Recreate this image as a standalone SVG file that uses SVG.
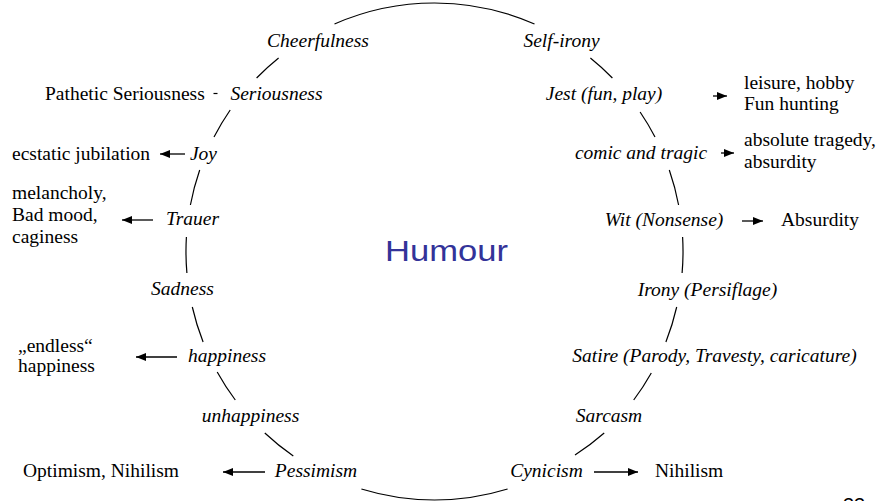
<svg xmlns="http://www.w3.org/2000/svg" width="879" height="501" viewBox="0 0 879 501">
  <style>
    .node { font-family: "Liberation Serif", "Times New Roman", serif; font-size: 19.5px; font-style: italic; fill: #000; text-anchor: middle; }
    .note { font-family: "Liberation Serif", "Times New Roman", serif; font-size: 19.5px; fill: #000; }
    .ring { fill: none; stroke: #000; stroke-width: 1.2; }
    .arrow { stroke: #000; stroke-width: 1.3; marker-end: url(#head); }
    .title { font-family: "Liberation Sans", Arial, sans-serif; font-size: 30px; fill: #333399; }
    .page { font-family: "Liberation Sans", Arial, sans-serif; font-size: 20px; fill: #000; }
  </style>
  <defs>
    <marker id="head" viewBox="0 0 10 8" refX="10" refY="4" markerWidth="10" markerHeight="8" markerUnits="userSpaceOnUse" orient="auto">
      <path d="M0,0 L10,4 L0,8 z" fill="#000"/>
    </marker>
  </defs>
  <rect width="879" height="501" fill="#fff"/>

  <!-- ring of concepts: circle centre (434.5, 251.5), r = 248.5, broken at each label -->
  <g id="connectors">
    <path class="ring" d="M334.5,24 A248.5,248.5 0 0 1 534.5,24"/>
    <path class="ring" d="M278.6,58 A248.5,248.5 0 0 0 256.6,78"/>
    <path class="ring" d="M230.2,110 A248.5,248.5 0 0 0 214,137"/>
    <path class="ring" d="M199.7,170 A248.5,248.5 0 0 0 190.4,205"/>
    <path class="ring" d="M186.4,237 A248.5,248.5 0 0 0 186.9,273"/>
    <path class="ring" d="M192.3,307 A248.5,248.5 0 0 0 203.1,342"/>
    <path class="ring" d="M217.2,372 A248.5,248.5 0 0 0 235.3,400"/>
    <path class="ring" d="M264.8,433 A248.5,248.5 0 0 0 293.3,456"/>
    <path class="ring" d="M361.4,489 A248.5,248.5 0 0 0 507.6,489"/>
    <path class="ring" d="M590.4,58 A248.5,248.5 0 0 1 612.4,78"/>
    <path class="ring" d="M640.1,112 A248.5,248.5 0 0 1 655,137"/>
    <path class="ring" d="M669.3,170 A248.5,248.5 0 0 1 678.6,205"/>
    <path class="ring" d="M682.6,237 A248.5,248.5 0 0 1 682.1,273"/>
    <path class="ring" d="M676.7,307 A248.5,248.5 0 0 1 665.9,342"/>
    <path class="ring" d="M651.3,373 A248.5,248.5 0 0 1 633.7,400"/>
    <path class="ring" d="M604.2,433 A248.5,248.5 0 0 1 575,455"/>

    <!-- outward arrows -->
    <line x1="213.5" y1="93.5" x2="217.5" y2="93.5" stroke="#000" stroke-width="1.2"/>
    <line class="arrow" x1="185" y1="154" x2="160" y2="154"/>
    <line class="arrow" x1="153" y1="220" x2="122" y2="220"/>
    <line class="arrow" x1="177" y1="357" x2="136" y2="357"/>
    <line class="arrow" x1="265" y1="472" x2="223" y2="472"/>
    <line class="arrow" x1="713" y1="96" x2="727" y2="96"/>
    <line class="arrow" x1="721" y1="153" x2="734" y2="153"/>
    <line class="arrow" x1="742" y1="221" x2="763" y2="221"/>
    <line class="arrow" x1="594" y1="472" x2="638" y2="472"/>
  </g>

  <g id="humour"><text class="title" x="385" y="261" textLength="123" lengthAdjust="spacingAndGlyphs">Humour</text></g>

  <g id="cheerfulness"><text class="node" x="318" y="47">Cheerfulness</text></g>
  <g id="self-irony"><text class="node" x="561.5" y="47">Self-irony</text></g>
  <g id="seriousness"><text class="node" x="276.5" y="100">Seriousness</text></g>
  <g id="jest"><text class="node" x="604" y="100">Jest (fun, play)</text></g>
  <g id="joy"><text class="node" x="203.5" y="160">Joy</text></g>
  <g id="comic-tragic"><text class="node" x="641" y="159">comic and tragic</text></g>
  <g id="trauer"><text class="node" x="192.5" y="225">Trauer</text></g>
  <g id="wit"><text class="node" x="664" y="226">Wit (Nonsense)</text></g>
  <g id="sadness"><text class="node" x="182.5" y="295">Sadness</text></g>
  <g id="irony"><text class="node" x="707.5" y="296">Irony (Persiflage)</text></g>
  <g id="happiness"><text class="node" x="227" y="362">happiness</text></g>
  <g id="satire"><text class="node" x="714.5" y="362">Satire (Parody, Travesty, caricature)</text></g>
  <g id="unhappiness"><text class="node" x="250.5" y="422">unhappiness</text></g>
  <g id="sarcasm"><text class="node" x="609" y="422">Sarcasm</text></g>
  <g id="pessimism"><text class="node" x="316" y="477">Pessimism</text></g>
  <g id="cynicism"><text class="node" x="546.5" y="477">Cynicism</text></g>

  <g id="pathetic-seriousness"><text class="note" x="45" y="100">Pathetic Seriousness</text></g>
  <g id="ecstatic-jubilation"><text class="note" x="12" y="160">ecstatic jubilation</text></g>
  <g id="melancholy">
    <text class="note" x="12" y="199">melancholy,</text>
    <text class="note" x="12" y="221">Bad mood,</text>
    <text class="note" x="12" y="243">caginess</text>
  </g>
  <g id="endless-happiness">
    <text class="note" x="18" y="352">„endless“</text>
    <text class="note" x="18" y="372">happiness</text>
  </g>
  <g id="optimism-nihilism"><text class="note" x="23" y="477">Optimism, Nihilism</text></g>
  <g id="leisure">
    <text class="note" x="744" y="89">leisure, hobby</text>
    <text class="note" x="744" y="110">Fun hunting</text>
  </g>
  <g id="absolute-tragedy">
    <text class="note" x="744" y="146">absolute tragedy,</text>
    <text class="note" x="744" y="168">absurdity</text>
  </g>
  <g id="absurdity"><text class="note" x="781" y="226">Absurdity</text></g>
  <g id="nihilism"><text class="note" x="655" y="477">Nihilism</text></g>

  <!-- slide number, running off the lower edge -->
  <text class="page" x="843" y="512">33</text>
</svg>
